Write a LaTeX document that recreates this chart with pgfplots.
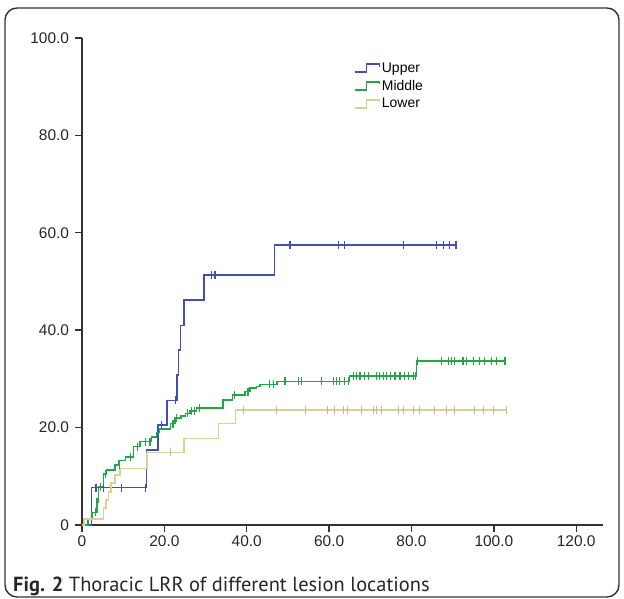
\documentclass[border=0pt]{standalone}
\usepackage{fontspec}
\setmainfont{Liberation Sans}
\newfontfamily\capfont{PT Sans}
\usepackage{pgfplots}
\pgfplotsset{compat=1.18}

\definecolor{cupper}{RGB}{66,80,182}
\definecolor{cmiddle}{RGB}{34,166,70}
\definecolor{clower}{RGB}{218,208,152}
\definecolor{clowmk}{RGB}{198,188,130}
\definecolor{caxis}{RGB}{50,50,50}

\begin{document}
\begin{tikzpicture}
\begin{axis}[
    scale only axis,
    width=521bp, height=487bp,
    xmin=0, xmax=126.5, ymin=0, ymax=100,
    axis lines*=left,
    axis line style={caxis, line width=1.6bp},
    tick align=outside,
    major tick length=7bp,
    tick style={caxis, line width=1.4bp},
    xtick={0,20,40,60,80,100,120},
    xticklabels={0,20.0,40.0,60.0,80.0,100.0,120.0},
    ytick={0,20,40,60,80,100},
    yticklabels={0,20.0,40.0,60.0,80.0,100.0},
    tick label style={font=\fontsize{15.5}{15.5}\selectfont, text=black!85},
    yticklabel style={xshift=-2.5bp},
    clip=false,
    legend cell align=left,
    legend style={at={(axis cs:66,95.3)}, anchor=north west, draw=none, fill=none,
        font=\fontsize{14}{14}\selectfont, inner sep=0pt, row sep=3.5bp,
        nodes={inner sep=1.5bp}},
    legend image code/.code={
        \draw[#1] (0bp,-4bp) -- (12bp,-4bp) -- (12bp,4bp) -- (25bp,4bp) -- (25bp,1.5bp);
    },
]
% Upper
\addplot[cupper, line width=1.4bp, const plot, mark=none] coordinates {
    (0,0) (2.35,7.7) (15.7,15.4) (18.5,20.5) (20.6,25.6) (23.1,30.8) (23.5,35.9)
    (23.9,41.0) (24.8,46.2) (29.6,51.3) (46.8,57.5) (90.8,57.5)
};
\addlegendentry{Upper}
% Middle
\addplot[cmiddle, line width=1.4bp, const plot, mark=none] coordinates {
    (0,0) (1.5,1.3) (2.4,2.6) (3.6,5.3) (4.0,7.9) (5.2,10.5) (6.0,11.3) (8.0,12.3)
    (8.8,13.3) (10.5,14.0) (12.5,16.1) (14.1,17.1) (16.9,18.1) (18.1,19.0) (18.8,19.7)
    (21.5,20.8) (22.6,22.0) (24.0,22.4) (25.2,22.9) (26.2,23.4) (27.8,24.0) (34.2,25.7)
    (36.6,26.7) (39.6,27.4) (40.8,28.1) (42.4,28.5) (43.2,28.9) (47.3,29.5) (65.0,30.6)
    (81.2,33.7) (102.7,33.7)
};
\addlegendentry{Middle}
% Lower
\addplot[clower, line width=1.4bp, const plot, mark=none] coordinates {
    (0,0) (0.5,1.2) (5.2,3.5) (5.8,5.1) (6.5,6.8) (7.0,8.6) (8.0,10.3) (9.2,11.6)
    (15.8,14.9) (24.8,17.8) (33.1,20.9) (37.3,23.6) (103.1,23.6)
};
\addlegendentry{Lower}

% censored cases
\addplot[only marks, mark=|, mark size=4bp, clowmk, line width=1bp, forget plot] coordinates {
    (21.4,14.9) (39.2,23.6) (47.3,23.6) (54.3,23.6) (59.6,23.6) (61.4,23.6) (63.4,23.6)
    (64.5,23.6) (67.9,23.6) (70.7,23.6) (71.5,23.6) (72.7,23.6) (76.8,23.6) (78.0,23.6)
    (80.4,23.6) (82.0,23.6) (85.7,23.6) (88.5,23.6) (90.5,23.6) (95.4,23.6) (97.4,23.6)
    (99.8,23.6) (103.1,23.6)
};
\addplot[only marks, mark=|, mark size=4bp, cupper, line width=1.1bp, forget plot] coordinates {
    (3.4,7.7) (5.2,7.7) (9.5,7.7) (15.5,7.7) (19.3,20.5) (22.6,25.6) (31.5,51.3)
    (32.3,51.3) (50.5,57.5) (62.2,57.5) (63.8,57.5) (78.0,57.5) (86.1,57.5) (87.7,57.5)
    (89.3,57.5) (90.8,57.5)
};
\addplot[only marks, mark=|, mark size=4bp, cmiddle, line width=1.1bp, forget plot] coordinates {
    (3.2,2.6) (3.9,5.3) (4.4,7.9) (5.6,10.5) (9.2,12.3) (11.7,14.0) (13.5,16.1)
    (15.5,17.1) (16.5,17.1) (22.1,20.8) (23.0,22.0) (25.7,22.9) (26.6,23.4) (27.4,23.4)
    (28.6,24.0) (37.1,26.7) (40.3,27.4) (45.6,28.9) (46.4,28.9)
    (49.3,29.5) (52.5,29.5) (53.3,29.5) (58.2,29.5) (61.0,29.5) (61.8,29.5) (62.6,29.5)
    (63.8,29.5) (64.6,29.5)
    (65.9,30.6) (66.7,30.6) (67.5,30.6) (68.7,30.6) (69.5,30.6) (71.5,30.6) (72.3,30.6)
    (73.1,30.6) (74.0,30.6) (74.8,30.6) (76.0,30.6) (77.2,30.6) (78.4,30.6) (79.2,30.6)
    (80.4,30.6) (81.0,30.6)
    (81.4,33.7) (87.3,33.7) (88.9,33.7) (89.7,33.7) (90.5,33.7) (92.5,33.7) (93.4,33.7)
    (95.0,33.7) (96.6,33.7) (97.8,33.7) (99.4,33.7) (100.7,33.7) (102.7,33.7)
};
\end{axis}
% frame and caption
\path[use as bounding box] (-82bp,-74bp) rectangle (542bp,525bp);
\draw[caxis, line width=1.4bp, rounded corners=12bp] (-77bp,-72bp) rectangle (537bp,517bp);
\node[anchor=base west, inner sep=0pt, font=\capfont\fontsize{20.5}{20.5}\selectfont, text=black!85]
    at (-69bp,-66.5bp) {\textbf{Fig. 2} Thoracic LRR of different lesion locations};
\end{tikzpicture}
\end{document}
